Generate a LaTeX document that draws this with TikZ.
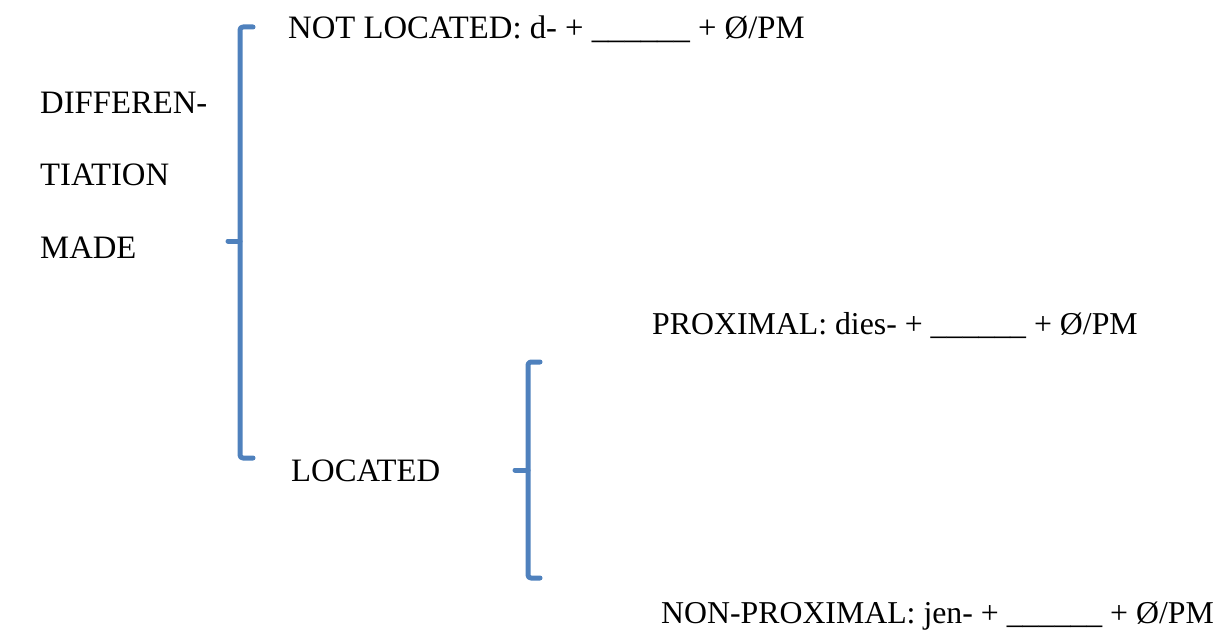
\documentclass[tikz,border=0pt]{standalone}
\usepackage{fontspec}
\setmainfont{Liberation Serif}
\definecolor{bracketblue}{HTML}{4F81BD}
\tikzset{
  label/.style={anchor=base west, inner sep=0pt, font=\fontsize{32.7}{39}\selectfont},
  sublabel/.style={label, font=\fontsize{31.8}{38}\selectfont},
  brace/.style={draw=bracketblue, line width=5pt, line cap=round, line join=round, rounded corners=3pt}
}
\begin{document}
\begin{tikzpicture}[x=1pt, y=-1pt]
  \useasboundingbox (0,0) rectangle (1228,634);

  % left-hand label, split over three lines
  \node[label] (d1) at (40,113) {DIFFEREN-};
  \node[label] (d2) at (40,185) {TIATION};
  \node[label] (d3) at (40,258) {MADE};

  % outer bracket
  \draw[brace] (253,27) -- (240,27) -- (240,458) -- (253,458);
  \draw[brace, rounded corners=0pt] (240,241) -- (228,241);

  \node[label] (notloc) at (288,39) {NOT LOCATED: d- + \_\_\_\_\_\_ + Ø/PM};
  \node[label] (loc) at (291,481) {LOCATED};

  % inner bracket
  \draw[brace] (540,362) -- (528,362) -- (528,578) -- (540,578);
  \draw[brace, rounded corners=0pt] (528,470) -- (515,470);

  \node[sublabel] (prox) at (652,334) {PROXIMAL: dies- + \_\_\_\_\_\_ + Ø/PM};
  \node[sublabel] (nonprox) at (661,623) {NON-PROXIMAL: jen- + \_\_\_\_\_\_ + Ø/PM};
\end{tikzpicture}
\end{document}
